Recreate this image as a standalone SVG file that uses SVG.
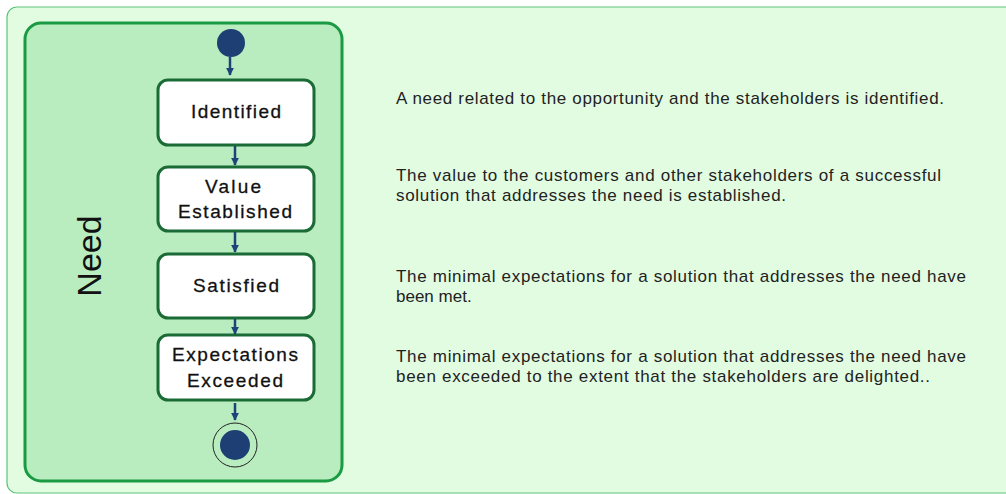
<svg xmlns="http://www.w3.org/2000/svg" width="1006" height="494" viewBox="0 0 1006 494">
<defs>
<marker id="ah" viewBox="0 0 10 10" refX="9" refY="5" markerWidth="3.2" markerHeight="3.2" orient="auto" markerUnits="strokeWidth">
<path d="M0,0 L10,5 L0,10 z" fill="#1d4478"/>
</marker>
<style>
.state{fill:#ffffff;stroke:#1b6b36;stroke-width:3}
.lbl{font-family:"Liberation Sans",Arial,sans-serif;font-size:19px;fill:#111;text-anchor:middle;stroke:#111;stroke-width:0.3}
.desc{font-family:"Liberation Sans",Arial,sans-serif;font-size:17px;fill:#222}
.conn{stroke:#1d4478;stroke-width:2.5;fill:none;marker-end:url(#ah)}
</style>
</defs>
<rect x="0" y="0" width="1006" height="494" fill="#ffffff"/>
<rect id="background" x="7" y="7" width="1010" height="486" rx="10" fill="#e2fce2" stroke="#5cc47a" stroke-width="1.2"/>
<g id="panel">
<rect x="25" y="23" width="317" height="458" rx="16" fill="#b9ecbe" stroke="#1a9a42" stroke-width="3"/>
<text transform="translate(101,256) rotate(-90)" font-family="'Liberation Sans',Arial,sans-serif" font-size="34" fill="#111" text-anchor="middle">Need</text>
</g>
<g id="start"><circle cx="231" cy="43" r="14" fill="#1d3f73"/></g>
<g id="identified">
<rect class="state" x="158" y="80" width="156" height="65" rx="10"/>
<text class="lbl" x="236" y="118" textLength="90" lengthAdjust="spacing">Identified</text>
</g>
<g id="value-established">
<rect class="state" x="158" y="167" width="156" height="64" rx="10"/>
<text class="lbl" x="233" y="193" textLength="56" lengthAdjust="spacing">Value</text>
<text class="lbl" x="235" y="218" textLength="114" lengthAdjust="spacing">Established</text>
</g>
<g id="satisfied">
<rect class="state" x="158" y="254" width="156" height="64" rx="10"/>
<text class="lbl" x="236" y="292" textLength="86" lengthAdjust="spacing">Satisfied</text>
</g>
<g id="expectations-exceeded">
<rect class="state" x="158" y="335" width="156" height="65" rx="10"/>
<text class="lbl" x="235" y="361" textLength="126" lengthAdjust="spacing">Expectations</text>
<text class="lbl" x="235" y="387" textLength="96" lengthAdjust="spacing">Exceeded</text>
</g>
<g id="end">
<circle cx="235" cy="445" r="22" fill="none" stroke="#222" stroke-width="1"/>
<circle cx="235" cy="445" r="15" fill="#1d3f73"/>
</g>
<g id="connectors">
<line class="conn" x1="230" y1="57" x2="230" y2="75"/>
<line class="conn" x1="235" y1="146" x2="235" y2="165"/>
<line class="conn" x1="235" y1="232" x2="235" y2="252"/>
<line class="conn" x1="235" y1="319" x2="235" y2="334"/>
<line class="conn" x1="235" y1="403" x2="235" y2="420"/>
</g>
<g id="descriptions">
<text class="desc" x="396" y="104" textLength="548" lengthAdjust="spacing">A need related to the opportunity and the stakeholders is identified.</text>
<text class="desc" x="396" y="181" textLength="545" lengthAdjust="spacing">The value to the customers and other stakeholders of a successful</text>
<text class="desc" x="396" y="201" textLength="390" lengthAdjust="spacing">solution that addresses the need is established.</text>
<text class="desc" x="396" y="282" textLength="570" lengthAdjust="spacing">The minimal expectations for a solution that addresses the need have</text>
<text class="desc" x="396" y="302">been met.</text>
<text class="desc" x="396" y="362" textLength="570" lengthAdjust="spacing">The minimal expectations for a solution that addresses the need have</text>
<text class="desc" x="396" y="382" textLength="534" lengthAdjust="spacing">been exceeded to the extent that the stakeholders are delighted..</text>
</g>
</svg>
